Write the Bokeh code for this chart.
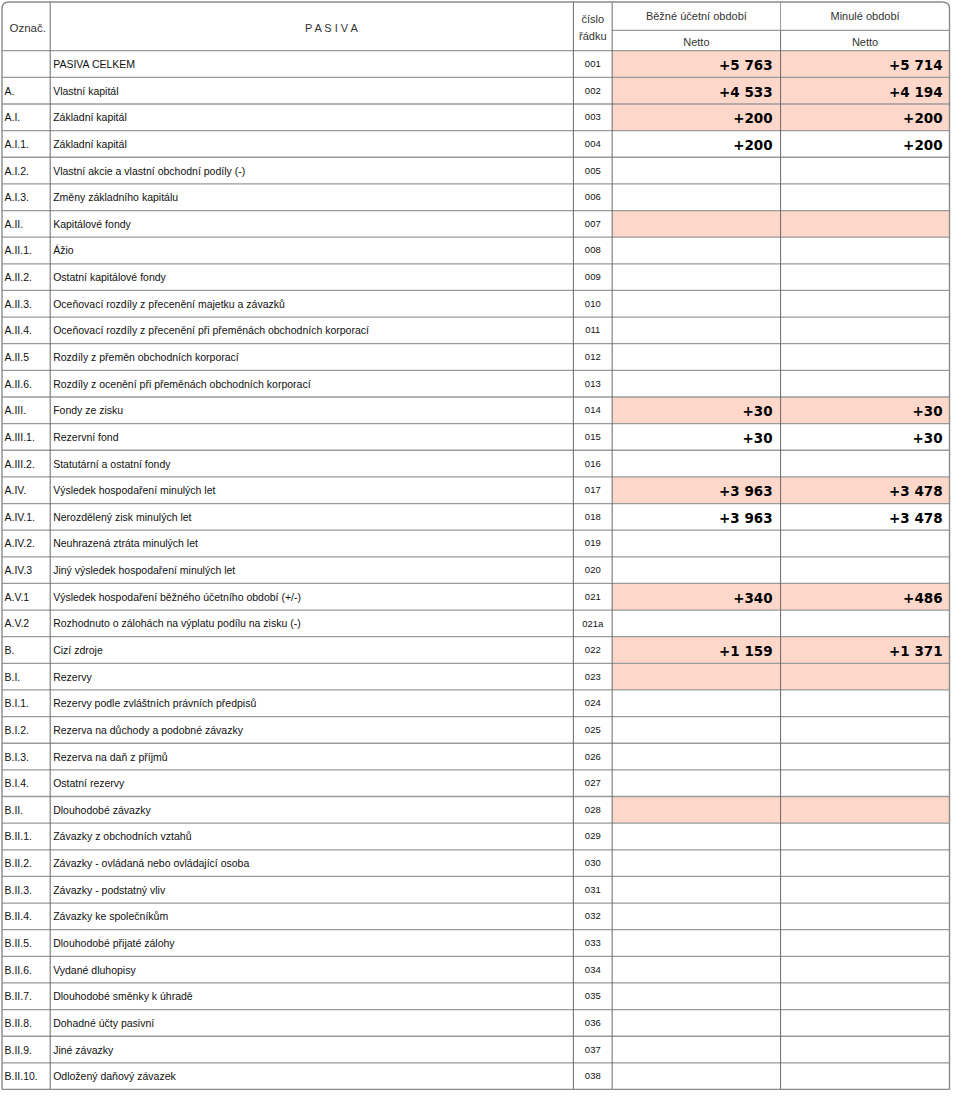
from bokeh.plotting import figure
from bokeh.models import Range1d, ColumnDataSource
from bokeh.core.properties import value
from bokeh.embed import file_html
from bokeh.resources import INLINE

# ---------------- data ----------------
codes = ["", "A.", "A.I.", "A.I.1.", "A.I.2.", "A.I.3.", "A.II.", "A.II.1.", "A.II.2.",
         "A.II.3.", "A.II.4.", "A.II.5", "A.II.6.", "A.III.", "A.III.1.", "A.III.2.",
         "A.IV.", "A.IV.1.", "A.IV.2.", "A.IV.3", "A.V.1", "A.V.2", "B.", "B.I.",
         "B.I.1.", "B.I.2.", "B.I.3.", "B.I.4.", "B.II.", "B.II.1.", "B.II.2.",
         "B.II.3.", "B.II.4.", "B.II.5.", "B.II.6.", "B.II.7.", "B.II.8.", "B.II.9.",
         "B.II.10."]
labels = ["PASIVA CELKEM", "Vlastní kapitál", "Základní kapitál", "Základní kapitál",
          "Vlastní akcie a vlastní obchodní podíly (-)", "Změny základního kapitálu",
          "Kapitálové fondy", "Ážio", "Ostatní kapitálové fondy",
          "Oceňovací rozdíly z přecenění majetku a závazků",
          "Oceňovací rozdíly z přecenění při přeměnách obchodních korporací",
          "Rozdíly z přeměn obchodních korporací",
          "Rozdíly z ocenění při přeměnách obchodních korporací",
          "Fondy ze zisku", "Rezervní fond", "Statutární a ostatní fondy",
          "Výsledek hospodaření minulých let", "Nerozdělený zisk minulých let",
          "Neuhrazená ztráta minulých let", "Jiný výsledek hospodaření minulých let",
          "Výsledek hospodaření běžného účetního období (+/-)",
          "Rozhodnuto o zálohách na výplatu podílu na zisku (-)",
          "Cizí zdroje", "Rezervy", "Rezervy podle zvláštních právních předpisů",
          "Rezerva na důchody a podobné závazky", "Rezerva na daň z příjmů",
          "Ostatní rezervy", "Dlouhodobé závazky", "Závazky z obchodních vztahů",
          "Závazky - ovládaná nebo ovládající osoba", "Závazky - podstatný vliv",
          "Závazky ke společníkům", "Dlouhodobé přijaté zálohy", "Vydané dluhopisy",
          "Dlouhodobé směnky k úhradě", "Dohadné účty pasivní", "Jiné závazky",
          "Odložený daňový závazek"]
row_numbers = ["001", "002", "003", "004", "005", "006", "007", "008", "009", "010",
               "011", "012", "013", "014", "015", "016", "017", "018", "019", "020",
               "021", "021a", "022", "023", "024", "025", "026", "027", "028", "029",
               "030", "031", "032", "033", "034", "035", "036", "037", "038"]
current_values = {"001": 5763, "002": 4533, "003": 200, "004": 200, "014": 30,
                  "015": 30, "017": 3963, "018": 3963, "021": 340, "022": 1159}
previous_values = {"001": 5714, "002": 4194, "003": 200, "004": 200, "014": 30,
                   "015": 30, "017": 3478, "018": 3478, "021": 486, "022": 1371}
highlighted_rows = ["001", "002", "003", "007", "014", "017", "021", "022", "023", "028"]

header_code = "Označ."
header_title = "P A S I V A"
header_rownum = ["číslo", "řádku"]
header_periods = ["Běžné účetní období", "Minulé období"]
header_sub = "Netto"


def fmt(v):
    return "+" + f"{v:,}".replace(",", " ")


# ---------------- layout ----------------
X0, X1, X2, X3, X4, X5 = 2.5, 51, 577.5, 616.5, 786, 956
Y_TOP, Y_HEAD, Y_SUB, Y_BOT = 2.5, 51.5, 31, 1096
n = len(row_numbers)
rh = (Y_BOT - Y_HEAD) / n
tops = [Y_HEAD + i * rh for i in range(n)]
mids = [t + rh / 2 for t in tops]

p = figure(width=952, height=1090, output_backend="svg", toolbar_location=None,
           x_range=Range1d(1, 959), y_range=Range1d(1097, 1), min_border=0)
p.axis.visible = False
p.grid.visible = False
p.outline_line_color = None
p.background_fill_color = "white"

PINK = "#fdd7ca"
# highlighted cells
hl = [i for i, r in enumerate(row_numbers) if r in highlighted_rows]
for xl, xr in [(X3, X4), (X4, X5)]:
    p.quad(left=[xl] * len(hl), right=[xr] * len(hl),
           top=[tops[i] for i in hl], bottom=[tops[i] + rh for i in hl],
           fill_color=PINK, line_color=None)

# horizontal lines
hy = tops[:]
p.segment(x0=[X0] * len(hy), x1=[X5] * len(hy), y0=hy, y1=hy,
          line_color="#9a9a9a", line_width=1.3)
p.segment(x0=[X3], x1=[X5], y0=[Y_SUB], y1=[Y_SUB], line_color="#9a9a9a", line_width=1.3)
# inner vertical lines
p.segment(x0=[X1, X2, X3], x1=[X1, X2, X3], y0=[Y_TOP] * 3, y1=[Y_BOT] * 3,
          line_color="#6a6a6a", line_width=1)
p.segment(x0=[X4], x1=[X4], y0=[Y_SUB], y1=[Y_BOT], line_color="#6a6a6a", line_width=1)
p.segment(x0=[X4], x1=[X4], y0=[Y_TOP], y1=[Y_SUB], line_color="#9a9a9a", line_width=1)

# outer border with rounded top corners
R = 7
OUT = "#8a8a8a"
p.segment(x0=[X0, X5, X0, X0 + R], x1=[X0, X5, X5, X5 - R],
          y0=[Y_TOP + R, Y_TOP + R, Y_BOT, Y_TOP], y1=[Y_BOT, Y_BOT, Y_BOT, Y_TOP],
          line_color=OUT, line_width=1.4)
p.quadratic(x0=[X0, X5 - R], y0=[Y_TOP + R, Y_TOP], x1=[X0 + R, X5], y1=[Y_TOP, Y_TOP + R],
            cx=[X0, X5], cy=[Y_TOP, Y_TOP], line_color=OUT, line_width=1.4)

LAB = value("Liberation Sans")
BOLD = value("DejaVu Sans")

# header texts
p.text(x=[10], y=[29], text=[header_code], text_font=LAB, text_font_size="11.5px",
       text_baseline="middle", text_color="#333333")
p.text(x=[335], y=[29], text=[header_title], text_font=LAB,
       text_font_size="11px", text_baseline="middle", text_align="center",
       text_color="#333333")
p.text(x=[(X2 + X3) / 2] * 2, y=[20, 37], text=header_rownum, text_font=LAB,
       text_font_size="11px", text_baseline="middle", text_align="center",
       text_color="#333333")
p.text(x=[(X3 + X4) / 2, (X4 + X5) / 2], y=[17, 17], text=header_periods, text_font=LAB,
       text_font_size="11px", text_baseline="middle", text_align="center",
       text_color="#333333")
p.text(x=[(X3 + X4) / 2, (X4 + X5) / 2], y=[43, 43], text=[header_sub] * 2, text_font=LAB,
       text_font_size="11px", text_baseline="middle", text_align="center",
       text_color="#333333")

# row texts
src = ColumnDataSource(dict(y=mids, code=codes, label=labels, num=row_numbers))
p.text(x=5, y="y", text="code", source=src, text_font=LAB, text_font_size="10.5px",
       text_baseline="middle", text_color="#111111")
p.text(x=54, y="y", text="label", source=src, text_font=LAB, text_font_size="10.5px",
       text_baseline="middle", text_color="#111111")
p.text(x=(X2 + X3) / 2, y="y", text="num", source=src, text_font=LAB, text_font_size="9.5px",
       text_baseline="middle", text_align="center", text_color="#111111")

cy, ct, py, pt = [], [], [], []
for i, r in enumerate(row_numbers):
    if r in current_values:
        cy.append(mids[i] + 1)
        ct.append(fmt(current_values[r]))
    if r in previous_values:
        py.append(mids[i] + 1)
        pt.append(fmt(previous_values[r]))
p.text(x=[778] * len(cy), y=cy, text=ct, text_font=BOLD, text_font_size="13.5px",
       text_font_style="bold", text_baseline="middle", text_align="right",
       text_color="#000000")
p.text(x=[949] * len(py), y=py, text=pt, text_font=BOLD, text_font_size="13.5px",
       text_font_style="bold", text_baseline="middle", text_align="right",
       text_color="#000000")

open("out.html", "w").write(file_html(p, INLINE))
